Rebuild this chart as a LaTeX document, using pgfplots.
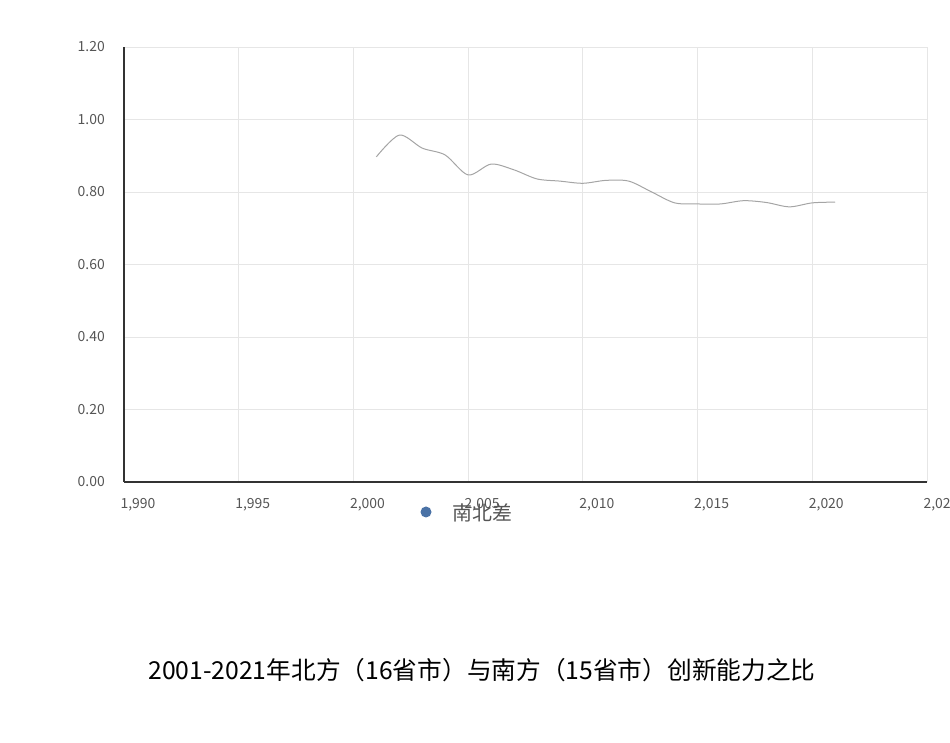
\documentclass[border=0pt]{standalone}
\usepackage{fontspec}
\setmainfont{Noto Sans CJK SC}
\usepackage{pgfplots}
\pgfplotsset{compat=1.18}
\definecolor{gridc}{HTML}{E6E6E6}
\definecolor{labc}{HTML}{555555}
\definecolor{linec}{HTML}{A5A5A5}
\definecolor{dotc}{HTML}{4A72A6}
\begin{document}
\begin{tikzpicture}[x=1bp,y=1bp]
\useasboundingbox (0,0) rectangle (950,743);
\begin{axis}[
  at={(124bp,261bp)}, anchor=south west,
  scale only axis, width=803bp, height=435bp,
  xmin=1990, xmax=2025, ymin=0, ymax=1.2,
  xtick distance=5, ytick distance=0.2,
  axis x line=bottom, axis y line=left,
  axis line style={-, draw=black!80, line width=1.2bp},
  major tick length=0pt,
  grid=major, grid style={draw=gridc, line width=0.8bp},
  /pgf/number format/assume math mode=true,
  x tick label style={/pgf/number format/1000 sep={,}, font=\fontsize{14}{16}\selectfont, text=labc, anchor=north, inner sep=0pt, xshift=14bp, yshift=-16bp},
  y tick label style={/pgf/number format/fixed, /pgf/number format/fixed zerofill, /pgf/number format/precision=2, font=\fontsize{14}{16}\selectfont, text=labc, anchor=east, inner sep=0pt, xshift=-19bp},
  clip=false,
]
\addplot[linec, line width=1bp, smooth] coordinates {
(2001,0.897) (2002,0.957) (2003,0.921) (2004,0.902) (2005,0.847)
(2006,0.877) (2007,0.861) (2008,0.836) (2009,0.830) (2010,0.824)
(2011,0.832) (2012,0.830) (2013,0.800) (2014,0.770) (2015,0.767)
(2016,0.767) (2017,0.776) (2018,0.771) (2019,0.759) (2020,0.770)
(2021,0.772)
};
\end{axis}
\fill[dotc] (426,231) circle (5.5);
\node[anchor=west, inner sep=0pt, text=labc, font=\fontsize{20}{22}\selectfont] at (452,230) {南北差};
\node[inner sep=0pt, font=\fontsize{24.8}{28}\selectfont] at (482,73) {2001-2021年北方（16省市）与南方（15省市）创新能力之比};
\end{tikzpicture}
\end{document}
